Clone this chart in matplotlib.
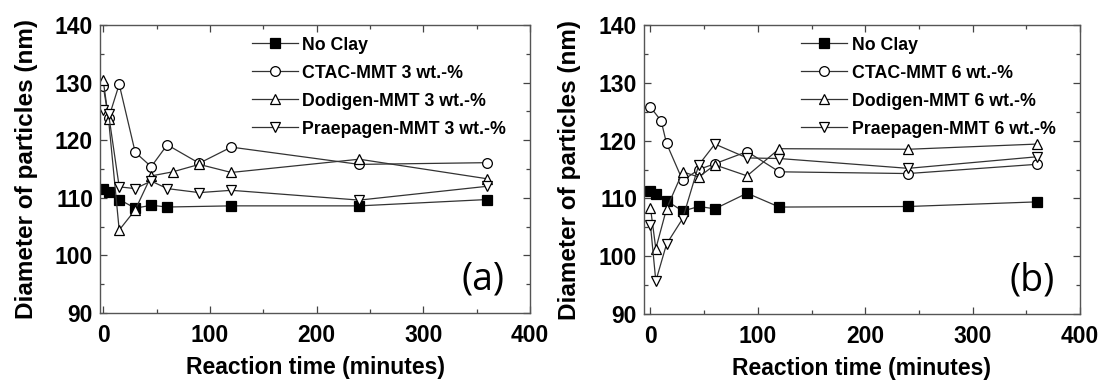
import matplotlib
matplotlib.use('Agg')
from matplotlib import pyplot as plt
from matplotlib.ticker import MultipleLocator

plt.rcParams['font.family'] = ['Liberation Sans', 'DejaVu Sans']
plt.rcParams['font.weight'] = 'bold'

# (a) 3 wt.-%
noclay_a_t = [0, 5, 15, 30, 45, 60, 120, 240, 360]
noclay_a = [111.5, 111.0, 109.7, 108.2, 108.7, 108.4, 108.6, 108.6, 109.7]
ctac3_t = [0, 5, 15, 30, 45, 60, 90, 120, 240, 360]
ctac3 = [129.4, 123.8, 129.7, 117.9, 115.4, 119.2, 116.0, 118.8, 115.8, 116.1]
dod3_t = [0, 5, 15, 30, 45, 65, 90, 120, 240, 360]
dod3 = [130.4, 123.7, 104.4, 107.9, 113.8, 114.5, 115.8, 114.4, 116.7, 113.3]
prae3_t = [0, 5, 15, 30, 45, 60, 90, 120, 240, 360]
prae3 = [125.3, 124.6, 111.9, 111.6, 112.9, 111.6, 110.9, 111.3, 109.6, 112.0]

# (b) 6 wt.-%
noclay_b_t = [0, 5, 15, 30, 45, 60, 90, 120, 240, 360]
noclay_b = [111.2, 110.7, 109.6, 107.8, 108.6, 108.2, 110.9, 108.5, 108.6, 109.4]
ctac6_t = [0, 10, 15, 30, 45, 60, 90, 120, 240, 360]
ctac6 = [125.8, 123.4, 119.5, 113.1, 115.0, 116.0, 118.1, 114.6, 114.3, 115.9]
dod6_t = [0, 5, 15, 30, 45, 60, 90, 120, 240, 360]
dod6 = [108.4, 101.3, 108.2, 114.6, 113.7, 115.8, 113.9, 118.6, 118.5, 119.4]
prae6_t = [0, 5, 15, 30, 45, 60, 90, 120, 240, 360]
prae6 = [105.4, 95.7, 102.1, 106.5, 115.8, 119.4, 117.0, 116.9, 115.2, 117.2]

labels_a = ['No Clay', 'CTAC-MMT 3 wt.-%', 'Dodigen-MMT 3 wt.-%', 'Praepagen-MMT 3 wt.-%']
labels_b = ['No Clay', 'CTAC-MMT 6 wt.-%', 'Dodigen-MMT 6 wt.-%', 'Praepagen-MMT 6 wt.-%']
markers = ['s', 'o', '^', 'v']
fills = ['black', 'white', 'white', 'white']

fig = plt.figure(figsize=(11.02, 3.85), dpi=100)
ax1 = fig.add_axes([100 / 1102, 72 / 385, 430 / 1102, 288 / 385])
ax2 = fig.add_axes([644 / 1102, 71 / 385, 436 / 1102, 289 / 385])


def draw_panel(ax, series, labels, tag, xmin, lx):
    for (t, y), lab, m, fc in zip(series, labels, markers, fills):
        ax.plot(t, y, '-', color='#333333', lw=0.9, marker=m, ms=7,
                mfc=fc, mec='black', mew=0.9, label=lab)
    ax.set_xlim(xmin, 400)
    ax.set_ylim(90, 140)
    ax.xaxis.set_major_locator(MultipleLocator(100))
    ax.xaxis.set_minor_locator(MultipleLocator(50))
    ax.yaxis.set_major_locator(MultipleLocator(10))
    ax.yaxis.set_minor_locator(MultipleLocator(5))
    ax.tick_params(which='both', direction='in', top=True, right=True,
                   color='#444444', width=0.9)
    ax.tick_params(which='major', length=5, labelsize=16.5)
    ax.tick_params(axis='x', which='major', pad=8)
    ax.tick_params(axis='y', which='major', pad=5)
    ax.tick_params(which='minor', length=3)
    for s in ax.spines.values():
        s.set_color('#555555')
        s.set_linewidth(1.0)
    ax.set_xlabel('Reaction time (minutes)', fontsize=16.5, fontweight='bold')
    ax.set_ylabel('Diameter of particles (nm)', fontsize=17.5, fontweight='bold')
    ax.xaxis.set_label_coords(0.5, -0.15)
    ax.yaxis.set_label_coords(-62 / 430, 0.5)
    ax.legend(loc='upper left', bbox_to_anchor=(lx, 0.96), frameon=False,
              fontsize=12.8, handlelength=2.6, handletextpad=0.25,
              labelspacing=0.62, borderpad=0, borderaxespad=0)
    ax.text(0.89, 0.115, tag, transform=ax.transAxes, fontsize=27,
            family='Open Sans', fontweight='normal', ha='center', va='center')


draw_panel(ax1, [(noclay_a_t, noclay_a), (ctac3_t, ctac3), (dod3_t, dod3), (prae3_t, prae3)],
           labels_a, '(a)', -3, 0.353)
draw_panel(ax2, [(noclay_b_t, noclay_b), (ctac6_t, ctac6), (dod6_t, dod6), (prae6_t, prae6)],
           labels_b, '(b)', -6, 0.36)

fig.savefig('out.png', dpi=100)
